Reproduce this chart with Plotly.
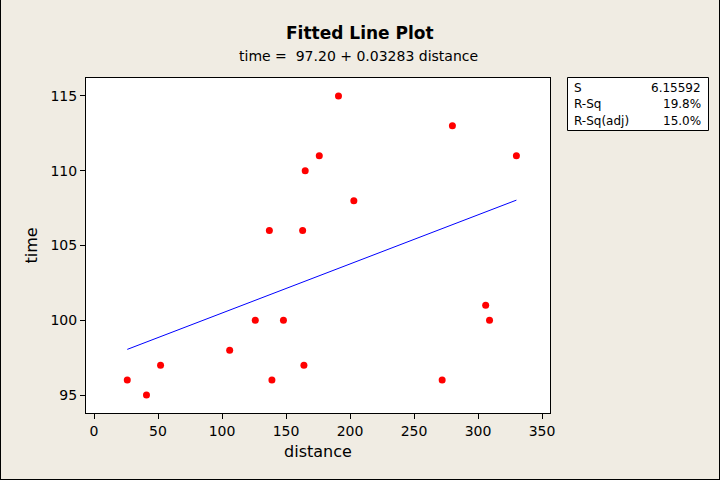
import plotly.graph_objects as go

distance = [26, 41, 52, 106, 126, 137, 139, 148, 163, 164, 165, 176, 191, 203, 272, 280, 306, 309, 330]
time = [96, 95, 97, 98, 100, 106, 96, 100, 106, 97, 110, 111, 115, 108, 96, 113, 101, 100, 111]

intercept = 97.20
slope = 0.03283
stat_labels = ["S", "R-Sq", "R-Sq(adj)"]
stat_values = ["6.15592", "19.8%", "15.0%"]

xmin, xmax = min(distance), max(distance)
line_x = [xmin, xmax]
line_y = [intercept + slope * v for v in line_x]

W, H = 720, 480
L, R, T, B = 86, 170, 78, 67
pw, ph = W - L - R, H - T - B

def px(x):
    return (x - L) / pw

def py(y):
    return (H - B - y) / ph

font = "DejaVu Sans"
bg = "#F0ECE3"

fig = go.Figure()
fig.add_trace(go.Scatter(x=line_x, y=line_y, mode="lines",
                         line=dict(color="#0000FF", width=1), showlegend=False, hoverinfo="skip"))
fig.add_trace(go.Scatter(x=distance, y=time, mode="markers",
                         marker=dict(color="#FF0000", size=7, line=dict(width=0)), showlegend=False))

fig.update_layout(
    width=W, height=H,
    margin=dict(l=L, r=R, t=T, b=B),
    paper_bgcolor=bg, plot_bgcolor="white",
    font=dict(family=font, color="black", size=14),
    xaxis=dict(range=[-6.25, 356.25], tickvals=[0, 50, 100, 150, 200, 250, 300, 350],
               ticks="outside", ticklen=5, tickcolor="black", showgrid=False, zeroline=False,
               showline=True, linecolor="black", linewidth=1, mirror=True,
               tickfont=dict(size=14, family=font),
               title=dict(text="distance", font=dict(size=16, family=font), standoff=8)),
    yaxis=dict(range=[93.8, 116.2], tickvals=[95, 100, 105, 110, 115],
               ticks="outside", ticklen=5, tickcolor="black", showgrid=False, zeroline=False,
               showline=True, linecolor="black", linewidth=1, mirror=True,
               tickfont=dict(size=14, family=font),
               title=dict(text="time", font=dict(size=16, family=font), standoff=8)),
)

annotations = [
    dict(text="<b>Fitted Line Plot</b>", x=px(360), y=py(33), xref="paper", yref="paper",
         xanchor="center", yanchor="middle", showarrow=False, font=dict(size=17, family=font)),
    dict(text="time =  %.2f + %.5f distance" % (intercept, slope), x=px(358), y=py(56),
         xref="paper", yref="paper", xanchor="center", yanchor="middle", showarrow=False,
         font=dict(size=14, family=font)),
]
row_y = [88, 104, 121]
for lab, val, yy in zip(stat_labels, stat_values, row_y):
    annotations.append(dict(text=lab, x=px(572), y=py(yy), xref="paper", yref="paper",
                            xanchor="left", yanchor="middle", showarrow=False,
                            font=dict(size=12, family=font)))
    annotations.append(dict(text=val, x=px(703), y=py(yy), xref="paper", yref="paper",
                            xanchor="right", yanchor="middle", showarrow=False,
                            font=dict(size=12, family=font)))
fig.update_layout(annotations=annotations)

shapes = [
    dict(type="rect", xref="paper", yref="paper", x0=px(567.5), x1=px(708.5), y0=py(130.5), y1=py(77.5),
         line=dict(color="black", width=1), fillcolor="white", layer="below"),
    dict(type="line", xref="paper", yref="paper", x0=px(0.5), x1=px(0.5), y0=py(0), y1=py(480),
         line=dict(color="black", width=1)),
    dict(type="line", xref="paper", yref="paper", x0=px(719.5), x1=px(719.5), y0=py(0), y1=py(480),
         line=dict(color="black", width=1)),
    dict(type="line", xref="paper", yref="paper", x0=px(0), x1=px(720), y0=py(479.5), y1=py(479.5),
         line=dict(color="black", width=1)),
]
fig.update_layout(shapes=shapes)

fig.write_html("out.html")
